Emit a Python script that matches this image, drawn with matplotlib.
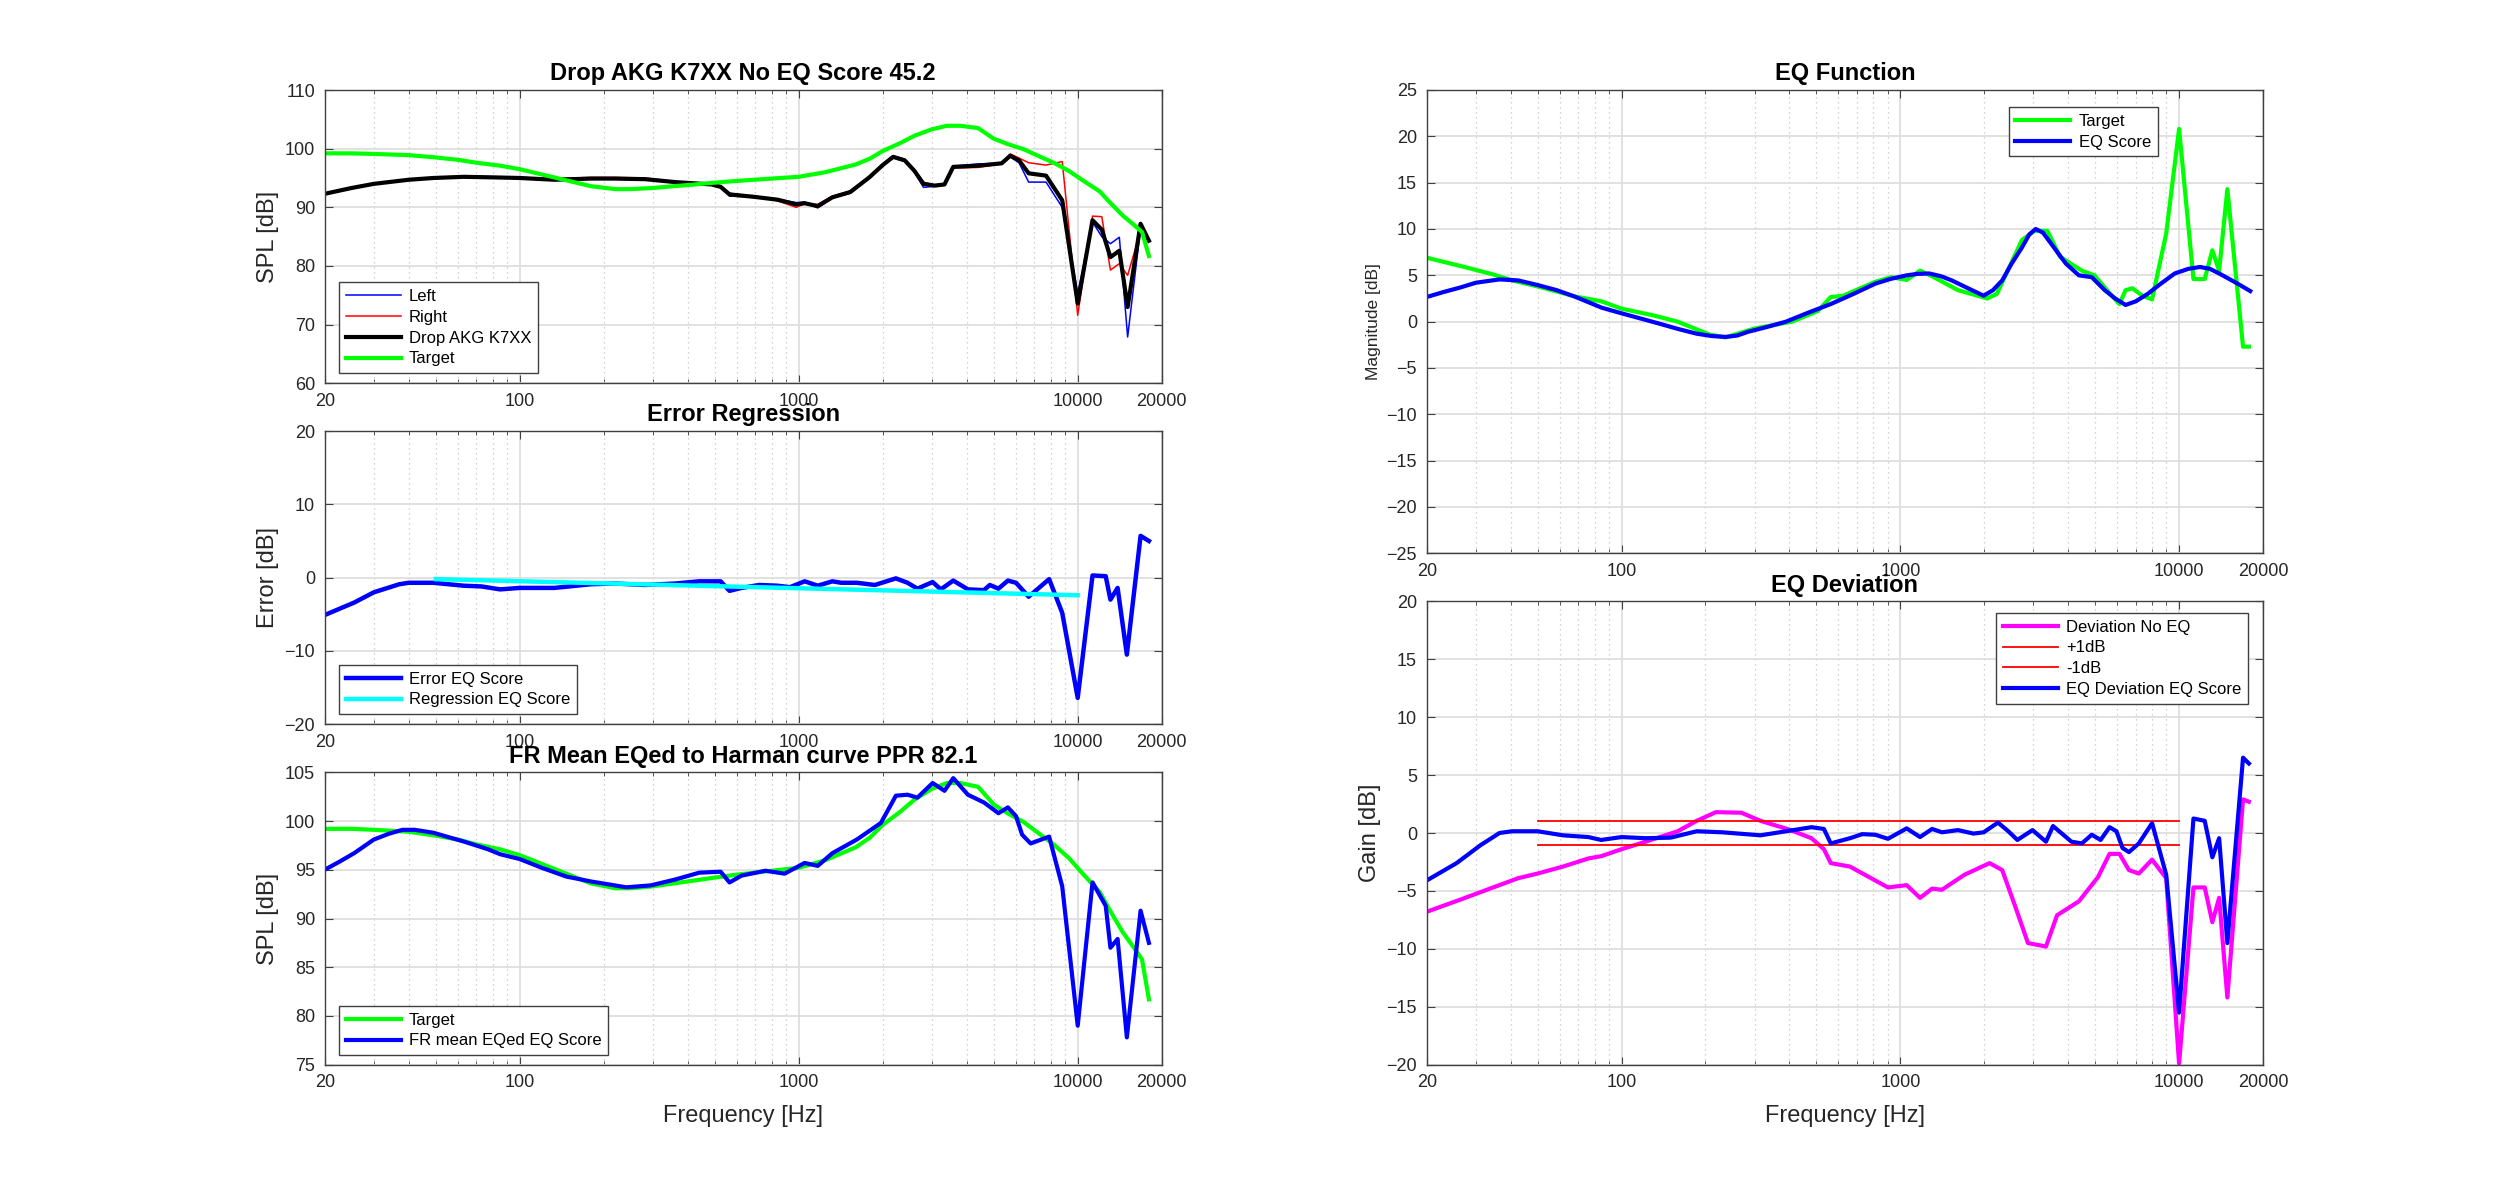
import numpy as np
import matplotlib
matplotlib.use("Agg")
import matplotlib.pyplot as plt
from matplotlib.ticker import FixedLocator, FixedFormatter, LogLocator, NullFormatter

plt.rcParams['font.family'] = ['Liberation Sans', 'DejaVu Sans']

# ---------------- data ----------------
# Harman target (SPL)
f_target = [20, 25, 30, 40, 50, 60, 70, 85, 100, 120, 150, 180, 220, 250, 300, 400, 500, 600,
            800, 1000, 1250, 1400, 1600, 1800, 2000, 2300, 2600, 3000, 3400, 3800, 4400, 5000,
            5600, 6400, 7200, 8200, 9300, 10500, 12000, 13000, 14500, 16000, 17000, 18000]
spl_target = [99.2, 99.2, 99.1, 98.9, 98.5, 98.1, 97.6, 97.1, 96.5, 95.6, 94.5, 93.6, 93.1,
              93.1, 93.3, 93.8, 94.2, 94.5, 94.9, 95.2, 96.0, 96.6, 97.3, 98.3, 99.6, 100.9,
              102.2, 103.3, 103.9, 103.9, 103.5, 101.7, 100.8, 99.9, 98.8, 97.6, 96.2, 94.5,
              92.7, 90.9, 88.6, 86.9, 85.8, 81.7]

# Raw measurements
f_meas = [20, 25, 30, 40, 49, 63, 81, 100, 133, 180, 219, 281, 361, 487, 525, 565, 688, 840,
          980, 1050, 1170, 1320, 1530, 1790, 2000, 2180, 2400, 2600, 2800, 3070, 3330, 3580,
          4390, 5340, 5730, 6160, 6670, 7700, 8800, 10000, 11300, 12200, 13100, 14100, 15100,
          16800, 18000]
spl_mean = [92.3, 93.3, 94.0, 94.7, 95.0, 95.2, 95.1, 95.0, 94.7, 94.9, 94.9, 94.8, 94.3, 93.9,
            93.5, 92.2, 91.8, 91.3, 90.5, 90.7, 90.2, 91.7, 92.6, 95.1, 97.2, 98.6, 98.0, 96.2,
            94.0, 93.7, 93.9, 96.9, 97.1, 97.5, 98.8, 98.0, 95.8, 95.4, 91.2, 73.6, 87.8, 86.2,
            81.5, 82.6, 73.0, 87.2, 84.3]
spl_left = [92.3, 93.3, 94.0, 94.7, 95.0, 95.2, 95.0, 95.0, 94.6, 94.8, 94.8, 94.7, 94.3, 93.9,
            93.5, 91.9, 91.8, 91.4, 90.8, 90.9, 89.9, 91.6, 92.4, 95.0, 97.3, 98.8, 98.2, 96.0,
            93.4, 93.6, 93.9, 97.0, 97.4, 97.5, 98.6, 97.6, 94.3, 94.3, 90.0, 75.3, 87.5, 85.0,
            83.8, 84.9, 67.9, 86.5, 84.5]
spl_right = [92.3, 93.3, 94.0, 94.7, 95.0, 95.3, 95.2, 95.1, 94.9, 95.1, 95.1, 95.0, 94.4, 93.9,
             93.6, 92.4, 91.9, 91.1, 90.0, 90.6, 90.5, 91.9, 92.8, 95.2, 97.1, 98.5, 97.8, 96.3,
             94.3, 93.8, 94.0, 96.7, 96.8, 97.4, 99.1, 98.4, 97.6, 97.2, 97.8, 71.6, 88.5, 88.4,
             79.3, 80.4, 78.4, 86.0, 84.2]

# Error regression
f_err = [20, 25.5, 30, 37, 40, 49, 63, 73, 85, 100, 133, 180, 219, 281, 361, 440, 525, 565,
         624, 722, 840, 930, 1050, 1170, 1320, 1420, 1615, 1875, 2230, 2455, 2663, 3020, 3230,
         3580, 4040, 4615, 4840, 5200, 5620, 6010, 6670, 7900, 8800, 10000, 11300, 12600,
         13100, 13900, 15000, 16800, 18000]
err_eq = [-5.1, -3.4, -2.0, -0.9, -0.7, -0.7, -1.1, -1.2, -1.6, -1.4, -1.4, -0.9, -0.8, -1.0,
          -0.8, -0.5, -0.5, -1.8, -1.4, -1.0, -1.1, -1.3, -0.5, -1.1, -0.5, -0.7, -0.7, -1.0,
          -0.1, -0.7, -1.5, -0.6, -1.6, -0.4, -1.6, -1.7, -1.0, -1.5, -0.4, -0.7, -2.6, -0.2,
          -4.8, -16.4, 0.3, 0.2, -3.0, -1.4, -10.5, 5.7, 5.0]
f_reg = [50, 10000]
err_reg = [-0.2, -2.4]

# FR mean EQed
f_eqd = [20, 22.5, 25.5, 30, 34, 38, 42, 49, 63, 77, 85, 100, 120, 147, 180, 241, 295, 361,
         440, 525, 565, 624, 760, 890, 1050, 1170, 1320, 1615, 1970, 2230, 2455, 2663, 3020,
         3330, 3580, 4040, 4615, 5200, 5620, 6010, 6320, 6780, 7900, 8800, 10000, 11300,
         12600, 13100, 13900, 15000, 16800, 18000]
spl_eqd = [95.0, 95.8, 96.7, 98.1, 98.7, 99.1, 99.1, 98.8, 97.9, 97.1, 96.6, 96.1, 95.2, 94.3,
           93.8, 93.2, 93.4, 94.0, 94.7, 94.8, 93.7, 94.4, 94.9, 94.6, 95.7, 95.4, 96.7, 98.1,
           99.8, 102.6, 102.7, 102.4, 103.9, 103.1, 104.4, 102.7, 101.9, 100.8, 101.4, 100.5,
           98.6, 97.7, 98.4, 93.3, 79.0, 93.7, 91.3, 87.0, 87.9, 77.8, 90.8, 87.5]

# EQ function
f_eqt = [20, 26.5, 34.6, 40.5, 50, 68.5, 84.5, 100, 129, 159, 207, 236, 299, 409, 506, 563, 624,
         813, 928, 1054, 1177, 1300, 1610, 2050, 2220, 2730, 3030, 3370, 3740, 4480, 4970, 5660,
         6110, 6430, 6800, 7380, 8000, 8990, 10000, 11260, 12360, 13160, 13920, 14900, 16960,
         17800]
eq_target = [6.9, 6.0, 5.1, 4.45, 3.8, 2.7, 2.2, 1.4, 0.7, 0.0, -1.4, -1.7, -0.75, 0.0, 1.15,
             2.65, 2.8, 4.3, 4.8, 4.5, 5.5, 4.9, 3.4, 2.5, 3.0, 8.8, 9.8, 9.8, 7.0, 5.5, 5.0, 3.0,
             1.9, 3.4, 3.6, 2.8, 2.4, 9.5, 20.8, 4.6, 4.6, 7.7, 5.5, 14.3, -2.7, -2.7]
f_eqs = [20, 23, 26.5, 30, 36.5, 42.6, 50, 58.5, 68, 76, 85, 100, 120, 136, 160, 186, 210, 236,
         260, 284, 330, 389, 470, 563, 680, 813, 920, 1054, 1150, 1270, 1400, 1530, 1750, 1990,
         2150, 2320, 2500, 2730, 2900, 3060, 3250, 3440, 3700, 3930, 4370, 4860, 5410, 5900,
         6430, 7000, 7720, 8600, 9650, 10800, 11900, 12900, 13920, 16000, 18000]
eq_score = [2.66, 3.2, 3.7, 4.2, 4.56, 4.45, 3.95, 3.4, 2.7, 2.1, 1.5, 0.9, 0.25, -0.2, -0.8,
            -1.3, -1.55, -1.65, -1.5, -1.1, -0.6, 0.0, 1.0, 1.9, 3.0, 4.1, 4.6, 5.0, 5.15, 5.2,
            4.9, 4.45, 3.6, 2.8, 3.4, 4.45, 6.2, 8.0, 9.4, 10.0, 9.6, 8.6, 7.3, 6.25, 5.0, 4.8,
            3.4, 2.5, 1.8, 2.2, 3.0, 4.1, 5.2, 5.7, 5.9, 5.7, 5.2, 4.2, 3.3]

# EQ deviation
f_dev = [20, 26.5, 34.6, 42.6, 50, 61.6, 76, 84.5, 100, 122, 159, 186, 218, 269, 315, 399, 480,
         532, 563, 660, 813, 903, 1054, 1177, 1300, 1410, 1700, 2090, 2320, 2580, 2870, 3330,
         3650, 4370, 5120, 5630, 6110, 6610, 7170, 8000, 8990, 10000, 11260, 12360, 13160,
         13920, 14900, 16960, 17800]
dev_noeq = [-6.8, -5.74, -4.7, -3.9, -3.5, -2.9, -2.2, -2.0, -1.4, -0.75, 0.15, 1.05, 1.8, 1.75,
            1.05, 0.3, -0.45, -1.4, -2.6, -2.9, -4.1, -4.7, -4.5, -5.6, -4.8, -4.9, -3.6, -2.6,
            -3.2, -6.3, -9.5, -9.8, -7.1, -5.9, -3.8, -1.8, -1.8, -3.2, -3.5, -2.3, -3.9, -19.9,
            -4.7, -4.7, -7.7, -5.6, -14.2, 2.9, 2.7]
f_deveq = [20, 25.6, 31.2, 36.5, 40.5, 50, 61.6, 76, 84.5, 100, 122, 150, 186, 230, 315, 389,
           480, 532, 563, 660, 730, 813, 903, 1054, 1177, 1300, 1410, 1610, 1830, 1990, 2240,
           2440, 2630, 2980, 3330, 3530, 4110, 4480, 4860, 5230, 5630, 5960, 6270, 6610, 7170,
           8000, 8990, 10000, 11260, 12360, 13160, 13920, 14900, 16960, 17800]
dev_eq = [-4.1, -2.6, -1.05, 0.0, 0.15, 0.15, -0.2, -0.35, -0.6, -0.35, -0.45, -0.4, 0.15,
          0.06, -0.2, 0.15, 0.5, 0.35, -0.9, -0.45, -0.1, -0.15, -0.5, 0.4, -0.35, 0.35, 0.06,
          0.25, -0.05, 0.06, 0.9, 0.15, -0.6, 0.25, -0.75, 0.6, -0.75, -0.9, -0.15, -0.6, 0.5,
          0.15, -1.3, -1.65, -0.9, 0.85, -3.6, -15.5, 1.25, 1.05, -2.1, -0.45, -9.5, 6.5, 6.0]
f_tol = [50, 10000]
tol_plus = [1, 1]
tol_minus = [-1, -1]

xticks = [20, 100, 1000, 10000, 20000]
xticklabels = ['20', '100', '1000', '10000', '20000']

# ---------------- figure ----------------
W, H = 2500, 1197
fig = plt.figure(figsize=(W / 100, H / 100), dpi=100)


def px_axes(x0, y0, x1, y1):
    return fig.add_axes([x0 / W, 1 - y1 / H, (x1 - x0) / W, (y1 - y0) / H])


ax1 = px_axes(324.7, 90, 1161.7, 383.3)
ax2 = px_axes(324.7, 431, 1161.7, 724.3)
ax3 = px_axes(324.7, 772.3, 1161.7, 1064.7)
ax4 = px_axes(1426.7, 90, 2263, 553.3)
ax5 = px_axes(1426.7, 601.3, 2263, 1064.7)

TXT = '#262626'


def style(ax, ylim, ystep, title, ylabel, ylabel_size=17, xlabel=None):
    ax.set_xscale('log')
    ax.set_xlim(20, 20000)
    ax.set_ylim(*ylim)
    ax.xaxis.set_major_locator(FixedLocator(xticks))
    ax.xaxis.set_major_formatter(FixedFormatter(xticklabels))
    ax.xaxis.set_minor_locator(LogLocator(base=10, subs=np.arange(2, 10)))
    ax.xaxis.set_minor_formatter(NullFormatter())
    ax.set_yticks(np.arange(ylim[0], ylim[1] + 0.1, ystep))
    ax.set_axisbelow(True)
    ax.grid(True, which='major', axis='both', color='#dedede', lw=1.3, ls='-')
    ax.grid(True, which='minor', axis='x', color='#c4c4c4', lw=0.9, ls=(0, (1, 3)))
    ax.tick_params(which='both', direction='in', top=True, right=True, colors='#404040',
                   labelcolor=TXT, labelsize=13, pad=7)
    ax.tick_params(which='major', length=6, width=0.8)
    ax.tick_params(which='minor', length=3, width=0.6)
    for s in ax.spines.values():
        s.set_color('#404040')
        s.set_linewidth(1.0)
    ax.set_title(title, fontsize=17, fontweight='bold', color='black', pad=7)
    ax.set_ylabel(ylabel, fontsize=ylabel_size, color=TXT)
    if xlabel:
        ax.set_xlabel(xlabel, fontsize=17, color=TXT, labelpad=10)


def leg(ax, loc, anchor):
    lg = ax.legend(loc=loc, bbox_to_anchor=anchor, fontsize=12, frameon=True, fancybox=False,
                   framealpha=1, edgecolor='#404040', handlelength=3.3, borderaxespad=0,
                   labelspacing=0.35, handletextpad=0.5, borderpad=0.4)
    lg.get_frame().set_linewidth(1.0)
    for t in lg.get_texts():
        t.set_color('black')
    return lg


# Top-left
ax1.plot(f_meas, spl_left, color='blue', lw=1.1, label='Left')
ax1.plot(f_meas, spl_right, color='red', lw=1.1, label='Right')
ax1.plot(f_meas, spl_mean, color='black', lw=3.0, label='Drop AKG K7XX')
ax1.plot(f_target, spl_target, color='#00ff00', lw=3.0, label='Target')
style(ax1, (60, 110), 10, 'Drop AKG K7XX No EQ Score 45.2', 'SPL [dB]')
leg(ax1, 'lower left', (0.017, 0.035))

# Middle-left
ax2.plot(f_err, err_eq, color='blue', lw=3.2, label='Error EQ Score')
ax2.plot(f_reg, err_reg, color='cyan', lw=3.2, label='Regression EQ Score')
style(ax2, (-20, 20), 10, 'Error Regression', 'Error [dB]')
leg(ax2, 'lower left', (0.017, 0.035))

# Bottom-left
ax3.plot(f_target, spl_target, color='#00ff00', lw=3.0, label='Target')
ax3.plot(f_eqd, spl_eqd, color='blue', lw=3.0, label='FR mean EQed EQ Score')
style(ax3, (75, 105), 5, 'FR Mean EQed to Harman curve PPR 82.1', 'SPL [dB]',
      xlabel='Frequency [Hz]')
leg(ax3, 'lower left', (0.017, 0.033))

# Top-right
ax4.plot(f_eqt, eq_target, color='#00ff00', lw=3.0, label='Target')
ax4.plot(f_eqs, eq_score, color='blue', lw=3.0, label='EQ Score')
style(ax4, (-25, 25), 5, 'EQ Function', 'Magnitude [dB]', ylabel_size=12.5)
leg(ax4, 'upper right', (0.874, 0.963))

# Bottom-right
ax5.plot(f_dev, dev_noeq, color='magenta', lw=3.0, label='Deviation No EQ')
ax5.plot(f_tol, tol_plus, color='red', lw=1.3, label='+1dB')
ax5.plot(f_tol, tol_minus, color='red', lw=1.3, label='-1dB')
ax5.plot(f_deveq, dev_eq, color='blue', lw=3.0, label='EQ Deviation EQ Score')
style(ax5, (-20, 20), 5, 'EQ Deviation', 'Gain [dB]', xlabel='Frequency [Hz]')
leg(ax5, 'upper right', (0.982, 0.975))

fig.savefig('out.png', dpi=100)
